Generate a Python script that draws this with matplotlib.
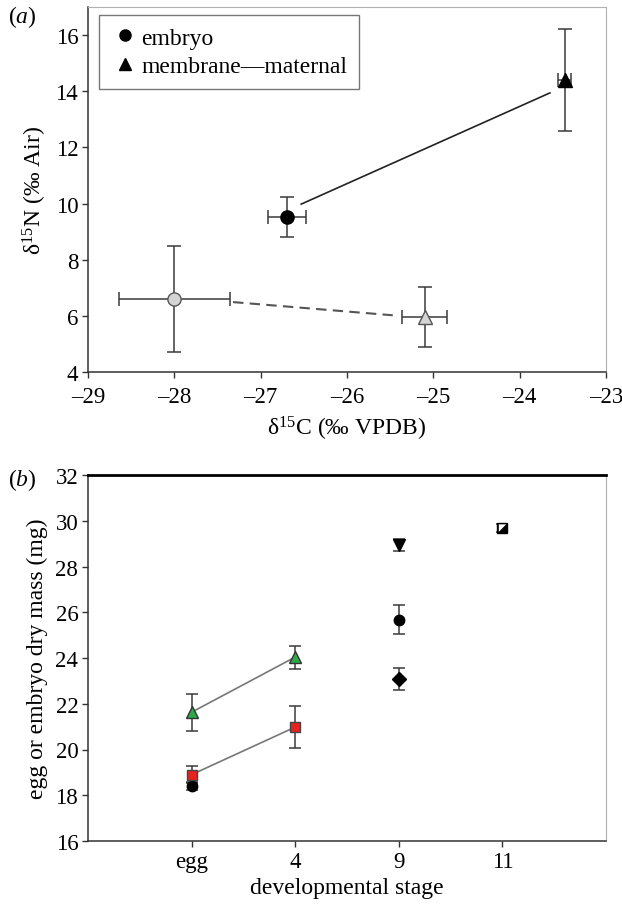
import matplotlib
matplotlib.use("Agg")
import matplotlib.pyplot as plt
from matplotlib.path import Path
import numpy as np

plt.rcParams['font.family'] = ['Liberation Serif', 'DejaVu Serif']
plt.rcParams['mathtext.fontset'] = 'custom'
plt.rcParams['mathtext.rm'] = 'Liberation Serif'
plt.rcParams['mathtext.it'] = 'Liberation Serif:italic'

# ---------------- panel (a) data ----------------
emb_x = [-26.70, -28.00]          # embryo: filled (black), open (grey)
emb_y = [9.52, 6.61]
emb_xerr = [0.22, 0.64]
emb_yerr = [0.70, 1.89]
mem_x = [-23.48, -25.10]          # membrane-maternal
mem_y = [14.40, 5.96]
mem_xerr = [0.08, 0.26]
mem_yerr = [1.80, 1.07]
solid_x = [-26.53, -23.65]        # connecting line, dark group
solid_y = [9.98, 13.94]
dash_x = [-27.32, -25.47]         # connecting line, grey group
dash_y = [6.49, 6.02]

# ---------------- panel (b) data ----------------
stages = ['egg', '4', '9', '11']
tri_stage = [0, 1]; tri_y = [21.63, 24.04]; tri_err = [0.80, 0.50]
sq_stage = [0, 1]; sq_y = [18.90, 20.98]; sq_err = [0.38, 0.93]
circ_stage = [0, 2]; circ_y = [18.40, 25.68]; circ_err = [0.18, 0.65]
inv_stage = [2]; inv_y = [28.94]; inv_err = [0.27]
dia_stage = [2]; dia_y = [23.09]; dia_err = [0.48]
half_stage = [3]; half_y = [29.67]; half_err = [0.18]

W, H = 622, 912
fig = plt.figure(figsize=(W/100, H/100), dpi=100)

def rect(l, r, t, b):
    return [l/W, 1-b/H, (r-l)/W, (b-t)/H]

FS = 17
TFS = 16.5
ecol = '#3a3a3a'
dark = '#333333'
light = '#b0b0b0'

# ================= (a) =================
ax = fig.add_axes(rect(88, 606, 8, 373))
ax.plot(solid_x, solid_y, color='#222222', lw=1.2, zorder=1)
ax.plot(dash_x, dash_y, color='#555555', lw=1.5, ls=(0, (5, 3)), zorder=1)
ekw = dict(ecolor=ecol, elinewidth=1.1, capsize=5, capthick=1.1, ls='none', zorder=2)
ax.errorbar(emb_x[0], emb_y[0], xerr=emb_xerr[0], yerr=emb_yerr[0], marker='o', ms=9.5,
            mfc='black', mec='black', **ekw)
ax.errorbar(emb_x[1], emb_y[1], xerr=emb_xerr[1], yerr=emb_yerr[1], marker='o', ms=9.5,
            mfc='#d4d4d4', mec='#555555', **ekw)
ax.errorbar(mem_x[0], mem_y[0], xerr=mem_xerr[0], yerr=mem_yerr[0], marker='^', ms=10,
            mfc='black', mec='black', **ekw)
ax.errorbar(mem_x[1], mem_y[1], xerr=mem_xerr[1], yerr=mem_yerr[1], marker='^', ms=10,
            mfc='#d4d4d4', mec='#555555', **ekw)
ax.set_xlim(-29, -23)
ax.set_ylim(4, 17)
ax.set_xticks(np.arange(-29, -22, 1))
ax.set_xticklabels(['\u2013%d' % abs(v) for v in range(-29, -22)])
ax.set_yticks(np.arange(4, 17, 2))
ax.set_xlabel('δ$^{15}$C (‰ VPDB)', fontsize=FS, labelpad=5)
ax.set_ylabel('δ$^{15}$N (‰ Air)', fontsize=FS, labelpad=5)
h1 = plt.Line2D([], [], marker='o', color='black', ls='none', ms=8)
h2 = plt.Line2D([], [], marker='^', color='black', ls='none', ms=8)
leg = ax.legend([h1, h2], ['embryo', 'membrane\u2014maternal'], loc='upper left',
                bbox_to_anchor=(0.012, 0.99), fontsize=FS, fancybox=False,
                handletextpad=0.1, handlelength=1.2, borderpad=0.5, labelspacing=0.3,
                borderaxespad=0.2)
leg.get_frame().set_edgecolor('#555555')
leg.get_frame().set_linewidth(1.0)

# ================= (b) =================
bx = fig.add_axes(rect(88, 606, 476, 842))
bx.plot(np.array(tri_stage)+1, tri_y, color='#777777', lw=1.2, zorder=1)
bx.plot(np.array(sq_stage)+1, sq_y, color='#777777', lw=1.2, zorder=1)
ekb = dict(ecolor=ecol, elinewidth=1.1, capsize=4.5, capthick=1.1, ls='none', zorder=2)
bx.errorbar(np.array(circ_stage)+1, circ_y, yerr=circ_err, marker='o', ms=7.5,
            mfc='black', mec='black', **ekb)
bx.errorbar(np.array(sq_stage)+1, sq_y, yerr=sq_err, marker='s', ms=7,
            mfc='#e8231f', mec='#444444', **ekb)
bx.errorbar(np.array(tri_stage)+1, tri_y, yerr=tri_err, marker='^', ms=8.5,
            mfc='#2fa84a', mec='#333333', **ekb)
bx.errorbar(np.array(inv_stage)+1, inv_y, yerr=inv_err, marker='v', ms=8,
            mfc='black', mec='black', **ekb)
bx.errorbar(np.array(dia_stage)+1, dia_y, yerr=dia_err, marker='D', ms=7,
            mfc='black', mec='black', **ekb)
bx.errorbar(np.array(half_stage)+1, half_y, yerr=half_err, marker='s', ms=7.5,
            mfc='black', mec='black', **ekb)
tri_path = Path([(-0.55, 0.62), (0.55, 0.62), (-0.55, -0.5), (-0.55, 0.62)])
bx.plot(np.array(half_stage)+1, half_y, marker=tri_path, ms=6, mfc='white', mec='none',
        ls='none', zorder=3)
bx.set_xlim(0, 5)
bx.set_ylim(16, 32)
bx.set_xticks(np.arange(1, len(stages)+1))
bx.set_xticklabels(stages)
bx.set_yticks(np.arange(16, 33, 2))
bx.set_xlabel('developmental stage', fontsize=FS, labelpad=4)
bx.set_ylabel('egg or embryo dry mass (mg)', fontsize=FS, labelpad=5)

for a in (ax, bx):
    a.tick_params(direction='out', length=4, width=1, color=dark, labelsize=TFS, pad=3)
    a.spines['left'].set_color(dark)
    a.spines['bottom'].set_color(dark)
    a.spines['left'].set_linewidth(1.1)
    a.spines['bottom'].set_linewidth(1.1)
    a.spines['right'].set_color(light)
    a.spines['right'].set_linewidth(0.8)
ax.tick_params(axis='x', pad=6)
ax.spines['top'].set_color(light)
ax.spines['top'].set_linewidth(0.8)
bx.spines['top'].set_color('black')
bx.spines['top'].set_linewidth(2)

fig.text(8/W, 1-17/H, r'($\it{a}$)', fontsize=FS, va='center', ha='left')
fig.text(8/W, 1-480/H, r'($\it{b}$)', fontsize=FS, va='center', ha='left')

fig.savefig('out.png', dpi=100)
